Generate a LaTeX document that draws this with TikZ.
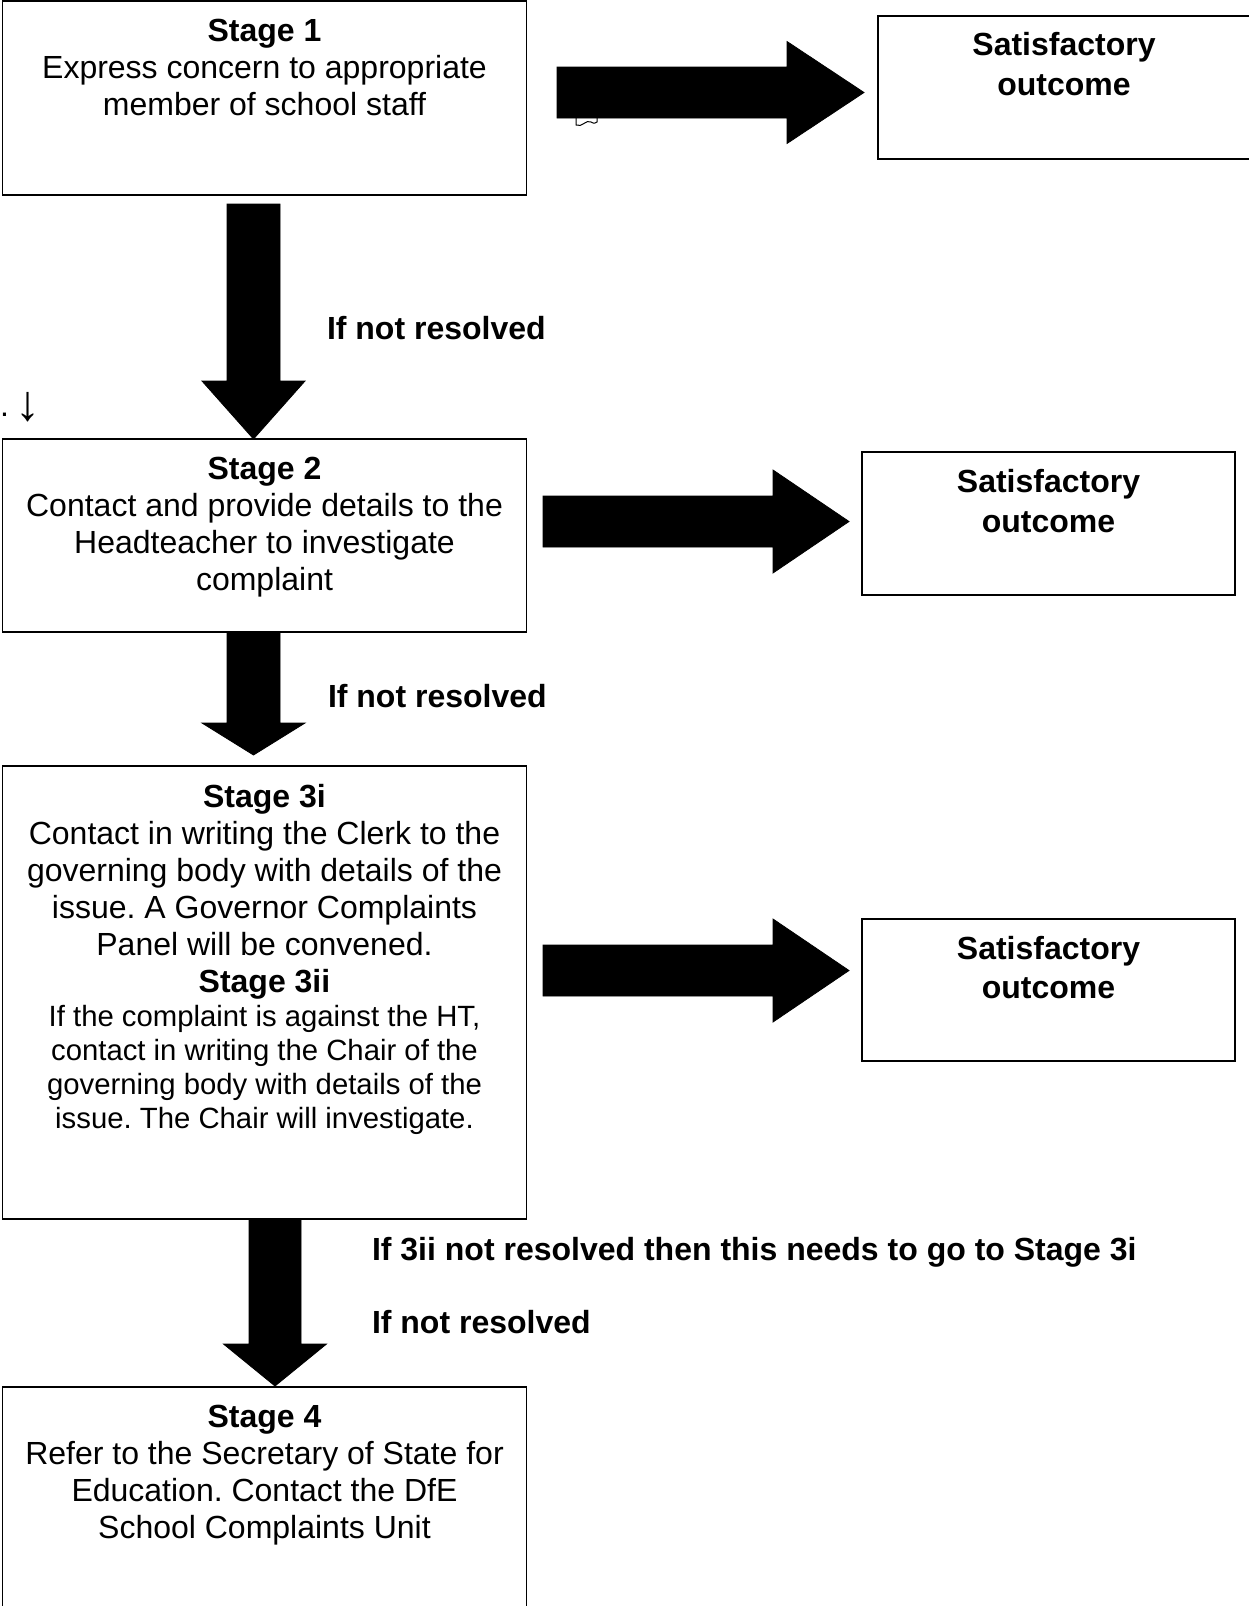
\documentclass[tikz,border=0pt]{standalone}
\usepackage{fontspec}
\setmainfont{Liberation Sans}
\frenchspacing
\newcommand{\rblockarrow}[6]{% x0 x1 x2 yc shafthalf headhalf
  \fill[blockarrow] (#1,#4-#5) -- (#2,#4-#5) -- (#2,#4-#6) -- (#3,#4) -- (#2,#4+#6) -- (#2,#4+#5) -- (#1,#4+#5) -- cycle;}
\newcommand{\dblockarrow}[6]{% y0 y1 y2 xc shafthalf headhalf
  \fill[blockarrow] (#4-#5,#1) -- (#4-#5,#2) -- (#4-#6,#2) -- (#4,#3) -- (#4+#6,#2) -- (#4+#5,#2) -- (#4+#5,#1) -- cycle;}
\begin{document}
\frenchspacing
\begin{tikzpicture}[x=1pt,y=-1pt,
  box/.style={draw, line width=1.8pt, inner sep=0pt, outer sep=0pt, anchor=north west},
  txt/.style={align=center, inner sep=0pt, outer sep=0pt, anchor=north, font=\fontsize{32}{37}\selectfont\frenchspacing},
  lbl/.style={inner sep=0pt, outer sep=0pt, anchor=base west, font=\fontsize{32}{37}\selectfont\bfseries},
  blockarrow/.style={fill=black, draw=black, line width=0.8pt}]
\useasboundingbox (0,0) rectangle (1249,1606);

% boxes
\node[box, minimum width=524, minimum height=194] (s1) at (2.5,1) {};
\node[box, minimum width=380, minimum height=143] (o1) at (878,16) {};
\node[box, minimum width=524, minimum height=193] (s2) at (2.5,439) {};
\node[box, minimum width=373, minimum height=143] (o2) at (862,452) {};
\node[box, minimum width=524, minimum height=453] (s3) at (2.5,766) {};
\node[box, minimum width=373, minimum height=142] (o3) at (862,919) {};
\node[box, minimum width=524, minimum height=240] (s4) at (2.5,1387) {};

% texts
\node[txt] (t1) at (264.5,41-26) {\rule{0pt}{26pt}\textbf{Stage 1}\\Express concern to appropriate\\member of school staff};
\node[txt] (u1) at (1064,55-26) {\rule{0pt}{26pt}\textbf{Satisfactory}\\[3pt]\textbf{outcome}};
\node[txt] (t2) at (264.5,479-26) {\rule{0pt}{26pt}\textbf{Stage 2}\\Contact and provide details to the\\Headteacher to investigate\\complaint};
\node[txt] (u2) at (1048.5,492-26) {\rule{0pt}{26pt}\textbf{Satisfactory}\\[3pt]\textbf{outcome}};
\node[txt] (t3a) at (264.5,807-26) {\rule{0pt}{26pt}\textbf{Stage 3i}\\Contact in writing the Clerk to the\\governing body with details of the\\issue. A Governor Complaints\\Panel will be convened.};
\node[txt] (t3b) at (264.5,992-26) {\rule{0pt}{26pt}\textbf{Stage 3ii}\\[-3pt]
  {\fontsize{29.3}{34}\selectfont If the complaint is against the HT,}\\[-3pt]
  {\fontsize{29.3}{34}\selectfont contact in writing the Chair of the}\\[-3pt]
  {\fontsize{29.3}{34}\selectfont governing body with details of the}\\[-3pt]
  {\fontsize{29.3}{34}\selectfont issue. The Chair will investigate.}};
\node[txt] (u3) at (1048.5,959-26) {\rule{0pt}{26pt}\textbf{Satisfactory}\\[2pt]\textbf{outcome}};
\node[txt] (t4) at (264.5,1427-26) {\rule{0pt}{26pt}\textbf{Stage 4}\\Refer to the Secretary of State for\\Education. Contact the DfE\\School Complaints Unit};

% labels
\node[lbl] (l1) at (327,339) {If not resolved};
\node[lbl] (l2) at (328,707) {If not resolved};
\node[lbl] (l3) at (372,1260) {If 3ii not resolved then this needs to go to Stage 3i};
\node[lbl] (l4) at (372,1333) {If not resolved};
\node[inner sep=0pt, outer sep=0pt, anchor=base west, font=\fontsize{32}{37}\selectfont] (stray) at (0,416) {.\hspace{7pt}{\fontsize{50}{50}\selectfont\raisebox{-4pt}{↓}}};

% block arrows
\rblockarrow{557}{787}{864}{92.5}{25.5}{51}
\rblockarrow{543}{773}{849}{521.5}{25.5}{51.5}
\rblockarrow{543}{773}{849}{970.5}{25.5}{51.5}
\dblockarrow{204}{381}{439}{253.5}{26.5}{51.5}
\dblockarrow{632}{723}{755}{253.5}{26.5}{51.5}
\dblockarrow{1219}{1344}{1386}{275}{26}{51.5}

% small stray mark below first arrow
\draw[line width=1pt] (576,118) -- (576,125) .. controls (582,128) and (586,119) .. (591,122) .. controls (594,124) and (596,123) .. (597,122) -- (597,118);
\end{tikzpicture}
\end{document}
